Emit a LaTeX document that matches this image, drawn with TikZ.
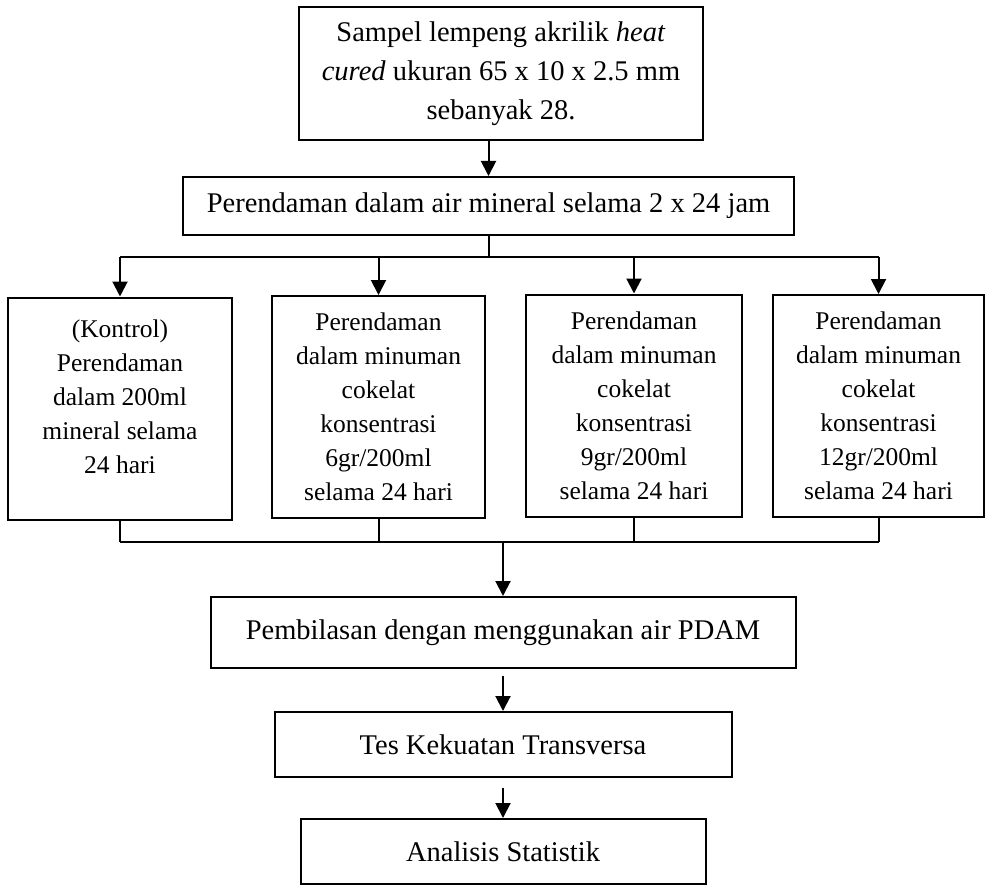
\documentclass[tikz,border=0pt]{standalone}
\usepackage{fontspec}
\setmainfont{Liberation Serif}
\usetikzlibrary{arrows.meta}

\begin{document}
\begin{tikzpicture}[x=1pt,y=-1pt,
    box/.style={draw,line width=2pt,align=center,inner sep=0pt,font=\fontsize{28.5}{39}\selectfont},
    kbox/.style={box,minimum height=222pt,font=\fontsize{25.5}{34}\selectfont},
    line/.style={line width=2pt},
    arr/.style={line,-{Triangle[width=15pt,length=15pt]}}]
    \useasboundingbox (0,0) rectangle (987,885);
    \node[box,minimum width=404pt,minimum height=133pt] (sampel) at (501,73.5)
      {Sampel lempeng akrilik \textit{heat}\\ \textit{cured} ukuran 65 x 10 x 2.5 mm\\ sebanyak 28.};
    \node[box,minimum width=611pt,minimum height=58pt] (rendam) at (488.5,206)
      {Perendaman dalam air mineral selama 2 x 24 jam};
    \node[kbox,minimum width=224pt] (k1) at (120,408.5)
      {(Kontrol)\\ Perendaman\\ dalam 200ml\\ mineral selama\\ 24 hari\\[-10pt] \mbox{}};
    \node[kbox,minimum width=213pt] (k2) at (378.5,407)
      {Perendaman\\ dalam minuman\\ cokelat\\ konsentrasi\\ 6gr/200ml\\ selama 24 hari};
    \node[kbox,minimum width=216pt] (k3) at (634,405.5)
      {Perendaman\\ dalam minuman\\ cokelat\\ konsentrasi\\ 9gr/200ml\\ selama 24 hari};
    \node[kbox,minimum width=211pt] (k4) at (878.5,406)
      {Perendaman\\ dalam minuman\\ cokelat\\ konsentrasi\\ 12gr/200ml\\ selama 24 hari};
    \node[box,minimum width=585pt,minimum height=71pt] (bilas) at (503,632.5)
      {Pembilasan dengan menggunakan air PDAM};
    \node[box,minimum width=457pt,minimum height=65pt] (tes) at (503,744.5)
      {Tes Kekuatan Transversa};
    \node[box,minimum width=405pt,minimum height=65pt] (stat) at (503,851.5)
      {Analisis Statistik};

    \coordinate (bagi) at (488.5,257);
    \coordinate (gabung) at (503,542);
    \draw[arr] (sampel.south -| rendam.north) -- (rendam.north);
    \draw[line] (rendam.south) -- (bagi);
    \draw[line] (bagi -| k1.north) -- (bagi -| k4.north);
    \foreach \k in {k1,k2,k3,k4}
      \draw[arr] (bagi -| \k.north) -- (\k.north);
    \foreach \k in {k1,k2,k3,k4}
      \draw[line] (\k.south) -- (gabung -| \k.south);
    \draw[line] (gabung -| k1.south) -- (gabung -| k4.south);
    \draw[arr] (gabung) -- (bilas.north);
    \draw[arr,shorten <=7pt] (bilas) -- (tes);
    \draw[arr,shorten <=10pt] (tes) -- (stat);
\end{tikzpicture}
\end{document}
